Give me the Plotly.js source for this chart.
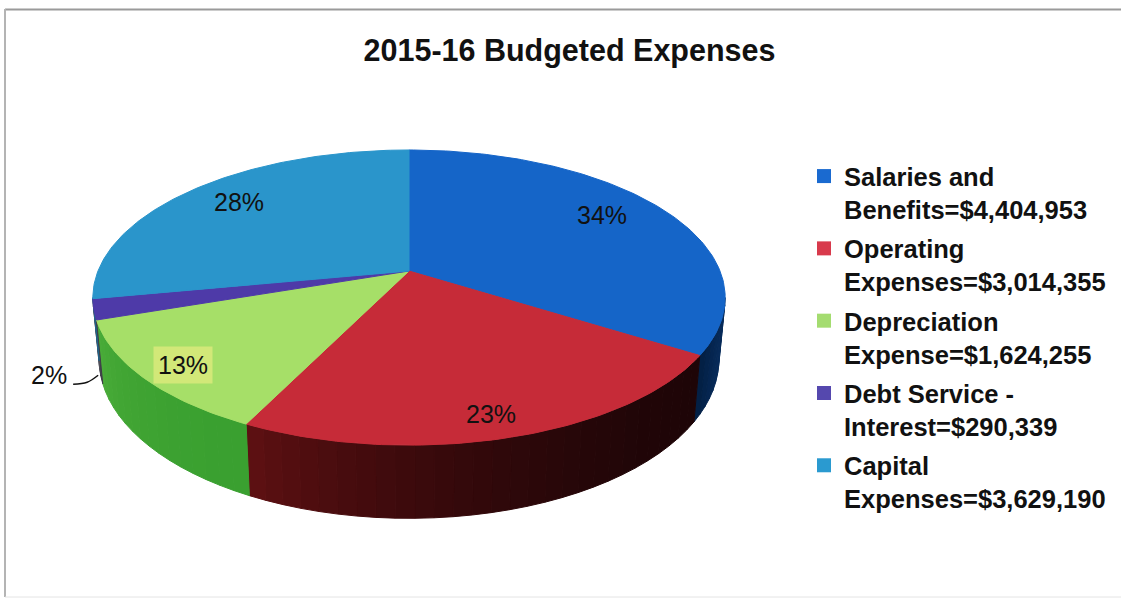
<!DOCTYPE html>
<html><head><meta charset="utf-8">
<script src="https://cdn.plot.ly/plotly-3.0.1.min.js"></script>
<style>html,body{margin:0;padding:0;background:#fff}#c{width:1121px;height:599px}</style>
</head><body><div id="c"></div>
<script>
const categories = ["Salaries and<br>Benefits=$4,404,953","Operating<br>Expenses=$3,014,355","Depreciation<br>Expense=$1,624,255","Debt Service -<br>Interest=$290,339","Capital<br>Expenses=$3,629,190"];
const values = [4404953,3014355,1624255,290339,3629190];
const percentLabels = ["34%","23%","13%","2%","28%"];
const topColors = ["#1565c8","#c62b38","#a6df68","#4e3aa8","#2a95cb"];
const legendColors = ["#1a6ad0","#d83a4c","#a4dc70","#5548ae","#2a9ad0"];
const sideStart = [[8,44,92],[30,5,7],[58,160,48],[60,60,70],[30,100,140]];
const sideEnd   = [[2,30,66],[94,16,18],[74,172,56],[90,90,100],[30,100,140]];

// perspective disc geometry
const AX=409, AY=271, A=311, B=142.8, K=0.18, DEPTH=60, SHRINK=0.98;
const total = values.reduce((a,b)=>a+b,0);
const rad = d=>d*Math.PI/180;
function topPt(th,r){const u=Math.sin(rad(th))*r,v=Math.cos(rad(th))*r,w=1+K*v;return [AX+A*u/w,AY-B*v/w];}
function lowPt(th){const u=Math.sin(rad(th)),v=Math.cos(rad(th)),w=1+K*v;return [AX+SHRINK*A*u/w,AY-B*v/w+DEPTH/w];}
const VIS0=Math.acos(-K)*180/Math.PI, VIS1=360-VIS0;

let edges=[0]; values.forEach(v=>edges.push(edges[edges.length-1]+v/total*360));
const traces=[];
function poly(pts,color){traces.push({x:pts.map(p=>p[0]),y:pts.map(p=>p[1]),mode:'lines',fill:'toself',fillcolor:color,line:{color:color,width:1},hoverinfo:'skip',showlegend:false});}

// visible rim, shaded in small quads
values.forEach((v,i)=>{
  const a=Math.max(edges[i],VIS0), b=Math.min(edges[i+1],VIS1);
  if(b<=a) return;
  const n=Math.max(1,Math.ceil((b-a)/3));
  for(let s=0;s<n;s++){
    const t0=a+(b-a)*s/n,t1=a+(b-a)*(s+1)/n,f=Math.pow((s+.5)/n,2);
    const c=sideStart[i].map((c0,j)=>Math.round(c0+(sideEnd[i][j]-c0)*f));
    poly([topPt(t0,1),topPt(t1,1),lowPt(t1),lowPt(t0),topPt(t0,1)],`rgb(${c.join(',')})`);
  }
});
// top face
values.forEach((v,i)=>{
  const pts=[topPt(0,0)],n=Math.ceil(edges[i+1]-edges[i]);
  for(let s=0;s<=n;s++) pts.push(topPt(edges[i]+(edges[i+1]-edges[i])*s/n,1));
  pts.push(topPt(0,0)); poly(pts,topColors[i]);
});
// leader line of the small slice
const rim=lowPt(edges[3]+4);
traces.push({x:[rim[0]-2,rim[0]-13,rim[0]-27],y:[rim[1]+3,rim[1]+10,rim[1]+12],mode:'lines',line:{color:'#111',width:1.5,shape:'spline'},hoverinfo:'skip',showlegend:false});
// legend keys
categories.forEach((c,i)=>traces.push({x:[null],y:[null],mode:'markers',name:c,legendgroup:'g'+i,marker:{symbol:'square',size:14,color:legendColors[i]},hoverinfo:'skip'}));

const font={family:'Liberation Sans, Arial, sans-serif',color:'#111'};
const mid=i=>(edges[i]+edges[i+1])/2;
function lab(i,r,dx,dy,extra){const p=topPt(mid(i),r);return Object.assign({x:p[0],y:p[1],xref:'x',yref:'y',xshift:dx,yshift:dy,text:percentLabels[i],showarrow:false,font:Object.assign({},font,{size:25})},extra||{});}
const annotations=[
  lab(0,.75,1,8),
  lab(1,.9,-8,3),
  lab(2,.87,0,-2,{bgcolor:'#d2e878',borderpad:4}),
  lab(4,.75,-5,6),
  {x:rim[0],y:rim[1],xref:'x',yref:'y',xshift:-51,yshift:-3,text:percentLabels[3],showarrow:false,font:Object.assign({},font,{size:25})}
];
const shapes=[
  {type:'line',xref:'paper',yref:'paper',x0:5/1121,x1:1,y0:1-9.5/599,y1:1-9.5/599,line:{color:'#9a9a9a',width:2}},
  {type:'line',xref:'paper',yref:'paper',x0:5/1121,x1:5/1121,y0:1-9/599,y1:1-597/599,line:{color:'#b4b4b4',width:2}},
  {type:'line',xref:'paper',yref:'paper',x0:5/1121,x1:1,y0:1-597/599,y1:1-597/599,line:{color:'#e4e4e4',width:1}}
];
const layout={
  width:1121,height:599,margin:{l:0,r:0,t:0,b:0},paper_bgcolor:'#fff',plot_bgcolor:'#fff',
  title:{text:'<b>2015-16 Budgeted Expenses</b>',x:569.5/1121,xanchor:'center',y:1-50/599,yanchor:'middle',font:Object.assign({},font,{size:30.5})},
  xaxis:{range:[0,1121],visible:false,fixedrange:true},
  yaxis:{range:[599,0],visible:false,fixedrange:true},
  legend:{x:804/1121,xanchor:'left',y:1-153/599,yanchor:'top',valign:'top',font:Object.assign({},font,{size:25.5,weight:700}),tracegroupgap:3,bgcolor:'rgba(0,0,0,0)',itemclick:false,itemdoubleclick:false,traceorder:'grouped'},
  showlegend:true,annotations,shapes
};
Plotly.newPlot('c',traces,layout,{staticPlot:true,displayModeBar:false});
</script></body></html>
